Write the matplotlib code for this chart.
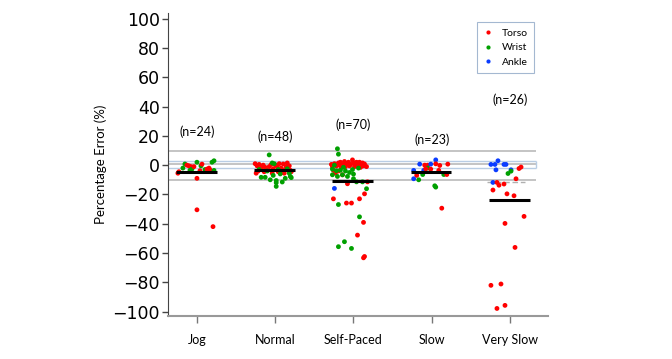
import matplotlib
matplotlib.use("Agg")
import matplotlib.pyplot as plt
from matplotlib.lines import Line2D

plt.rcParams['font.family'] = ['Lato', 'DejaVu Sans']

categories = ["Jog", "Normal", "Self-Paced", "Slow", "Very Slow"]
counts = ["(n=24)", "(n=48)", "(n=70)", "(n=23)", "(n=26)"]
count_y = [23, 19.5, 27.5, 17.5, 44.5]
means = [-4.5, -3.5, -10.8, -4.8, -23.9]
median_very_slow = -11.8

sensor_names = ["Torso", "Wrist", "Ankle"]
sensor_colors = {"T": "#ff0000", "W": "#00a000", "A": "#0a3cff"}

# jitter offsets are in pixels (78 px per category), values in %
jog_x = [-19, -18, -14, -12, -10, -8, -6, -5, -3, 0, 0, 0, 4, 5, 8, 10, 12, 13, 15, 17, 17, 16, -7, 3]
jog_y = [-5.5, -4.5, -2.0, 0.8, 0.0, -0.5, -1.0, -2.7, -1.0, 2.0, -9.0, -30.5, -0.5, 0.7, -3.0, -2.7,
         -2.0, -3.2, 2.0, 3.0, -3.6, -42.0, -3.5, -3.8]
jog_s = "TTWWTTTWTWTTWTWTTTWWWTWT"

normal_x = [-20, -18, -16, -19, -17, -14, -12, -10, -8, -6, -4, -2, 0, 2, 3, 4, 6, 7, 8, 10, 11, 12, 14, 15,
            -11, -3, 9, 16,
            -6, -3, -14, -10, -5, -2, 1, 1, 1, 7, 14, 15, 16, -1, -8, 5, 10, -16, 12, 3]
normal_y = [1.0, -0.5, 0.5, -5.5, -4.0, -2.0, 0.0, -1.5, -3.5, -1.0, 0.5, -2.5, 0.2, -1.0, -4.5, 1.0, -2.0,
            -5.0, 0.8, -3.0, -1.0, 1.5, -0.5, -3.5, -4.5, -5.5, -5.5, -4.5,
            7.0, 1.5, -8.3, -8.3, -10.0, -7.0, -10.5, -12.0, -14.5, -11.5, -5.5, -7.7, -8.5, 1.0, -4.0,
            -6.0, -9.0, -3.0, -2.5, -3.0]
normal_s = "T" * 28 + "W" * 20

self_x = [-22, -21, -19, -17, -15, -14, -13, -12, -10, -9, -8, -7, -5, -4, -3, -1, 0, 1, 2, 3, 4, 5, 6, 7,
          8, 9, 10, 11, 13, -18, -15, -11, -20,
          -6, 14, 11, 6, -20, -7, -2, 10, 4, 11, 10,
          -16, -15, -21, -21, -16, -11, -6, 0, 0, -19, -8, -13, 3, 9, 13, -15, 6, -9, -15, -2, -1, -4,
          -17, 5, -10,
          -19]
self_y = [0.5, -1.0, 1.0, -0.5, 1.5, 0.0, 2.0, -1.5, 0.5, 2.5, -1.0, 1.0, 2.0, -0.5, 0.5, 3.6, 1.5, -1.0,
          0.0, 2.0, -0.5, 1.0, 2.0, -1.5, 0.5, 1.5, -0.5, 0.8, -1.0, -5.4, -4.0, -6.6, -3.5,
          -12.7, -11.4, -19.6, -23.0, -23.0, -25.9, -25.9, -39.1, -47.8, -62.4, -63.3,
          11.2, 7.5, -2.7, -6.6, -7.7, -6.6, -7.7, -6.1, -9.3, 0.0, -4.0, -3.5, -11.4, -11.4, -16.1,
          -26.9, -35.3, -52.3, -55.7, -56.9, -3.0, -5.0, -3.8, -2.0, -1.5,
          -15.9]
self_s = "T" * 44 + "W" * 25 + "A"

slow_x = [4, -12, -7, -4, -1, 4, 8, 16, -4, -1, -18, -8, 7, -9, -15, 12, 15, -18, -13, 3, 4, 10, -6]
slow_y = [3.6, 0.7, 0.0, 0.0, 0.7, 0.9, -0.2, 0.7, -2.0, -2.7, -3.6, -3.6, -3.6, -6.4, -7.0, -6.4, -6.4,
          -9.3, -10.0, -14.1, -15.0, -29.4, -2.5]
slow_s = "AATTATTTWTAATWTWTAWWWTT"

vslow_x = [-12, -19, -15, -6, -4, -14, 1, 1, -2, 11, 9, 6, -17, -13, -11, -6, -17, -3, 4, 14, -5, 5, -19,
           -9, -13, -5]
vslow_y = [3.0, 0.5, 0.5, 0.5, 0.5, -3.2, -3.2, -4.1, -5.7, -1.3, -2.3, -9.3, -11.8, -11.8, -13.7, -12.9,
           -17.0, -19.6, -20.9, -35.0, -39.8, -56.2, -82.1, -81.2, -97.9, -95.8]
vslow_s = "AAAAAAAWWTTTATTTTTTTTTTTTT"

groups = [(jog_x, jog_y, jog_s), (normal_x, normal_y, normal_s), (self_x, self_y, self_s),
          (slow_x, slow_y, slow_s), (vslow_x, vslow_y, vslow_s)]

fig = plt.figure(figsize=(6.72, 3.59), dpi=100)
ax = fig.add_axes([0.25, 0.12, 0.566, 0.844])
ax.set_xlim(-0.37, 4.49)
ax.set_ylim(-103, 104)

# reference band lines
x0, x1 = -0.37, 4.33
for yy in [10, 1, -10]:
    ax.hlines(yy, x0, x1, color="#c4c4c4", lw=1.4, zorder=1)
for yy in [2.5, -2.2]:
    ax.hlines(yy, x0, x1, color="#b9cde4", lw=1.0, zorder=1)
ax.vlines(x1, -2.2, 2.5, color="#b9cde4", lw=1.0, zorder=1)

for i, (gx, gy, gs) in enumerate(groups):
    xs = [i + v / 78.0 for v in gx]
    cs = [sensor_colors[c] for c in gs]
    ax.scatter(xs, gy, s=12, c=cs, linewidths=0, zorder=3)
    ax.hlines(means[i], i - 0.27, i + 0.25, color="black", lw=2.2, zorder=4)
    ax.text(i, count_y[i], counts[i], ha="center", va="center", fontsize=9)

ax.hlines(median_very_slow, 4 - 0.29, 4 + 0.19, color="#b0b0b0", lw=1.0,
          linestyle=(0, (4, 2)), zorder=2)

ax.set_yticks(range(-100, 101, 20))
ax.set_xticks(range(len(categories)))
ax.set_xticklabels(categories, fontsize=9)
for lab in ax.get_yticklabels():
    lab.set_family(["Liberation Sans Narrow", "DejaVu Sans"])
    lab.set_fontsize(12.5)
    lab.set_color("black")
ax.tick_params(axis="y", length=4, width=1, pad=2, color="#444444")
ax.tick_params(axis="x", length=5, width=1, pad=8, color="#777777")
ax.set_ylabel("Percentage Error (%)", fontsize=9.5, labelpad=4)

ax.spines["top"].set_visible(False)
ax.spines["right"].set_visible(False)
ax.spines["left"].set_color("#444444")
ax.spines["bottom"].set_color("#999999")
ax.spines["bottom"].set_linewidth(1.5)

handles = [Line2D([], [], marker="o", ls="", markersize=3, markeredgewidth=0,
                  color=sensor_colors[k]) for k in "TWA"]
leg = fig.legend(handles, sensor_names, loc="upper left", bbox_to_anchor=(0.702, 0.952),
                 fontsize=7.5, frameon=True, fancybox=False, handletextpad=0.8,
                 borderpad=0.6, labelspacing=0.5, handlelength=1.0)
leg.get_frame().set_edgecolor("#8ea6c6")
leg.get_frame().set_linewidth(0.8)

fig.savefig("out.png", dpi=100)
